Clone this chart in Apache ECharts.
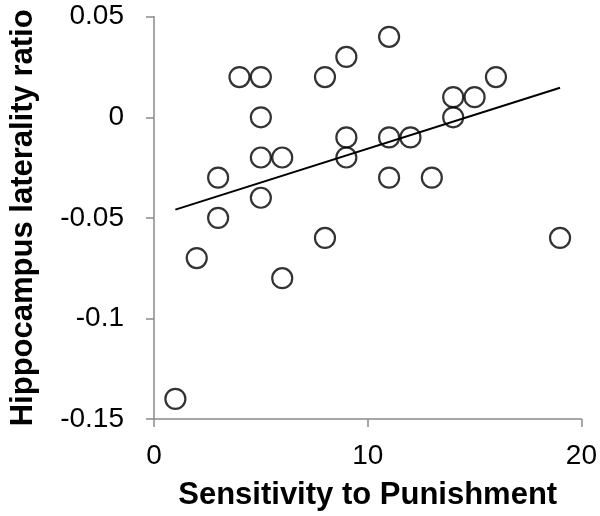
<!DOCTYPE html>
<html>
<head>
<meta charset="utf-8">
<script src="https://cdn.jsdelivr.net/npm/echarts@6/dist/echarts.min.js"></script>
<style>
html,body{margin:0;padding:0;background:#fff;}
#chart{width:600px;height:516px;}
</style>
</head>
<body>
<div id="chart"></div>
<script>
// Sensitivity to Punishment (x) vs Hippocampus laterality ratio (y)
var sensitivity = [1, 2, 3, 3, 4, 5, 5, 5, 5, 6, 6, 8, 8, 9, 9, 9, 11, 11, 11, 12, 13, 14, 14, 15, 16, 19];
var laterality  = [-0.14, -0.07, -0.03, -0.05, 0.02, 0.02, 0, -0.02, -0.04, -0.02, -0.08, 0.02, -0.06, 0.03, -0.01, -0.02, 0.04, -0.01, -0.03, -0.01, -0.03, 0.01, 0, 0.01, 0.02, -0.06];
// trend line end points
var trendX = [1, 19];
var trendY = [-0.0459, 0.0147];
var xTicks = [0, 10, 20];
var yTicks = [-0.15, -0.1, -0.05, 0, 0.05];

var points = sensitivity.map(function (x, i) { return [x, laterality[i]]; });
var trend = trendX.map(function (x, i) { return [x, trendY[i]]; });

var font = '"Liberation Sans", Arial, Helvetica, sans-serif';
var axisGrey = '#8a8a8a';

var chart = echarts.init(document.getElementById('chart'), null, {renderer: 'canvas'});
chart.setOption({
  animation: false,
  backgroundColor: '#ffffff',
  grid: {left: 147.5, right: 17.3, top: 16.7, bottom: 92, containLabel: false},
  xAxis: {
    type: 'value',
    min: xTicks[0], max: xTicks[xTicks.length - 1], interval: xTicks[1] - xTicks[0],
    name: 'Sensitivity to Punishment',
    nameLocation: 'middle',
    nameGap: 61,
    nameTextStyle: {fontFamily: font, fontSize: 31, fontWeight: 'bold', color: '#000'},
    axisLine: {show: true, onZero: false, lineStyle: {color: axisGrey, width: 1.5}},
    axisTick: {show: true, length: 8, lineStyle: {color: axisGrey, width: 1.5}},
    axisLabel: {fontFamily: font, fontSize: 28, color: '#000', margin: 23},
    splitLine: {show: false}
  },
  yAxis: {
    type: 'value',
    min: yTicks[0], max: yTicks[yTicks.length - 1], interval: 0.05,
    name: 'Hippocampus laterality ratio',
    nameLocation: 'middle',
    nameGap: 115,
    nameTextStyle: {fontFamily: font, fontSize: 31, fontWeight: 'bold', color: '#000'},
    axisLine: {show: true, onZero: false, lineStyle: {color: axisGrey, width: 1.5}},
    axisTick: {show: true, length: 8, lineStyle: {color: axisGrey, width: 1.5}},
    axisLabel: {fontFamily: font, fontSize: 28, color: '#000', margin: 30,
      formatter: function (v) { return String(Math.round(v * 100) / 100); }},
    splitLine: {show: false}
  },
  series: [
    {
      type: 'line',
      data: trend,
      symbol: 'none',
      lineStyle: {color: '#000', width: 2},
      z: 2
    },
    {
      type: 'scatter',
      data: points,
      symbol: 'circle',
      symbolSize: 20,
      itemStyle: {color: 'rgba(0,0,0,0)', borderColor: '#000', borderWidth: 2.2},
      z: 3
    }
  ]
});
</script>
</body>
</html>
